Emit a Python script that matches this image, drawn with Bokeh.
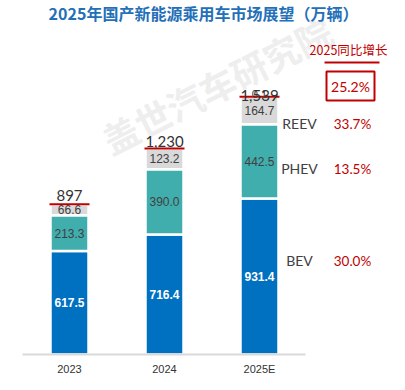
import numpy as np
from bokeh.plotting import figure
from bokeh.models import ColumnDataSource, Range1d, Label, FixedTicker, BoxAnnotation
from bokeh.core.properties import value
from bokeh.embed import file_html
from bokeh.resources import INLINE

# ---- data ----
years = ["2023", "2024", "2025E"]
bev = [617.5, 716.4, 931.4]
phev = [213.3, 390.0, 442.5]
reev = [66.6, 123.2, 164.7]
other = [0.0, 0.0, 0.1]
series = ["BEV", "PHEV", "REEV"]
growth = ["30.0%", "13.5%", "33.7%"]
total_growth = "25.2%"
title = "2025年国产新能源乘用车市场展望（万辆）"

# ---- layout helpers (page pixel -> data) ----
W, H = 389, 374
BASE = 354            # baseline, px from canvas top
XPX = 95.0
X0 = -69.0 / XPX
YS = 0.1675           # px per unit
Y0 = -(H - BASE) / YS
Y1 = BASE / YS

def dx(px):
    return (px - 8) / XPX + X0

def dy(py):
    return (8 + BASE - py) / YS

x = np.arange(len(years), dtype=float)
bev_a, phev_a, reev_a, oth_a = map(np.array, (bev, phev, reev, other))
tot = bev_a + phev_a + reev_a + oth_a

src = ColumnDataSource(dict(x=x, BEV=bev_a, PHEV=phev_a, REEV=reev_a, OTH=oth_a))

p = figure(width=W, height=H, x_range=Range1d(X0, X0 + W / XPX), y_range=Range1d(Y0, Y1),
           min_border=0, toolbar_location=None, output_backend="svg")
p.outline_line_color = None
p.grid.visible = False
p.yaxis.visible = False
p.background_fill_color = "white"
p.border_fill_color = "white"

# watermark
p.add_layout(Label(x=dx(224), y=dy(92), text="盖世汽车研究院", text_align="center", text_baseline="middle",
                   angle=0.47, text_font="Noto Sans CJK SC", text_font_style="bold", text_font_size="36px",
                   text_color="#EEEEEE", level="underlay"))

p.vbar_stack(["BEV", "PHEV", "REEV", "OTH"], x="x", width=38 / XPX, source=src,
             color=["#0070C0", "#41AEAE", "#D9D9D9", "#D9D9D9"], line_color="white", line_width=2.5)

# red top line
p.segment(x0=x - 20 / XPX, x1=x + 20 / XPX, y0=tot, y1=tot, line_color="#C00000", line_width=2)

# segment labels
font_num = value("Liberation Sans Narrow, Liberation Sans")
bev_mid = bev_a / 2
phev_mid = bev_a + phev_a / 2
reev_mid = bev_a + phev_a + reev_a / 2
p.text(x=x, y=bev_mid, text=[f"{v:.1f}" for v in bev], text_align="center", text_baseline="middle",
       text_color="white", text_font_style="bold", text_font_size="12px", text_font=font_num)
p.text(x=x, y=phev_mid, text=[f"{v:.1f}" for v in phev], text_align="center", text_baseline="middle",
       text_color="#404040", text_font_size="12px", text_font=font_num)
p.text(x=x, y=reev_mid, text=[f"{v:.1f}" for v in reev], text_align="center", text_baseline="middle",
       text_color="#404040", text_font_size="12px", text_font=font_num)
oth_idx = oth_a > 0
p.text(x=x[oth_idx], y=tot[oth_idx], text=[f"{v:.1f}" for v in oth_a[oth_idx]], text_align="center",
       text_baseline="middle", y_offset=-3, text_color="#404040", text_font_size="11px", text_font=font_num)

# totals
tsrc = ColumnDataSource(dict(x=x, y=tot, t=[f"{v:,.0f}" for v in tot], off=[-9, -7, -1]))
p.text(x="x", y="y", text="t", y_offset="off", source=tsrc, text_align="center", text_baseline="alphabetic",
       text_color="#333333", text_font_size="15px", text_font=value("Lato"))

# axis (drawn at y=0 inside the frame)
p.xaxis.fixed_location = 0
p.xaxis.bounds = (x[0] - 0.5, x[-1] + 0.48)
p.xaxis.ticker = FixedTicker(ticks=list(x))
p.xaxis.major_label_overrides = {i: y for i, y in enumerate(years)}
p.xaxis.axis_line_color = "#D9D9D9"
p.xaxis.axis_line_width = 2
p.xaxis.major_tick_line_color = None
p.xaxis.minor_tick_line_color = None
p.xaxis.major_tick_out = 0
p.xaxis.major_tick_in = 0
p.xaxis.minor_tick_out = 0
p.xaxis.minor_tick_in = 0
p.xaxis.major_label_standoff = 8
p.xaxis.major_label_text_font_size = "11px"
p.xaxis.major_label_text_color = "#333333"
p.xaxis.major_label_text_font = "Liberation Sans Narrow, Liberation Sans"

# title
p.add_layout(Label(x=dx(211), y=dy(8), text=title, text_align="center", text_baseline="top",
                   text_font="Noto Sans CJK SC", text_font_style="bold", text_font_size="16px",
                   text_color="#2470B8"))

# growth header
RED = "#C00000"
p.add_layout(Label(x=dx(356), y=dy(57), text="2025同比增长", text_align="center", text_baseline="middle",
                   text_font="Noto Sans CJK SC", text_font_size="12.5px", text_color=RED))
p.add_layout(BoxAnnotation(left=dx(332), right=dx(387), top=dy(69), bottom=dy(71),
                           fill_color=RED, fill_alpha=1, line_color=None))
p.add_layout(BoxAnnotation(left=dx(334), right=dx(382), top=dy(79), bottom=dy(108),
                           fill_alpha=0, line_color=RED, line_alpha=1, line_width=2))
p.add_layout(Label(x=dx(358), y=dy(94), text=total_growth, text_align="center", text_baseline="middle",
                   text_font="Lato", text_font_size="14px", text_color=RED))

# series names & growth
label_py = [268, 176, 131]
for name, g, py in zip(series, growth, label_py):
    p.add_layout(Label(x=dx(307), y=dy(py), text=name, text_align="center", text_baseline="middle",
                       text_font="Lato", text_font_size="14px", text_color="#404040"))
    p.add_layout(Label(x=dx(360), y=dy(py), text=g, text_align="center", text_baseline="middle",
                       text_font="Lato", text_font_size="13.5px", text_color=RED))

open("out.html", "w").write(file_html(p, INLINE))
